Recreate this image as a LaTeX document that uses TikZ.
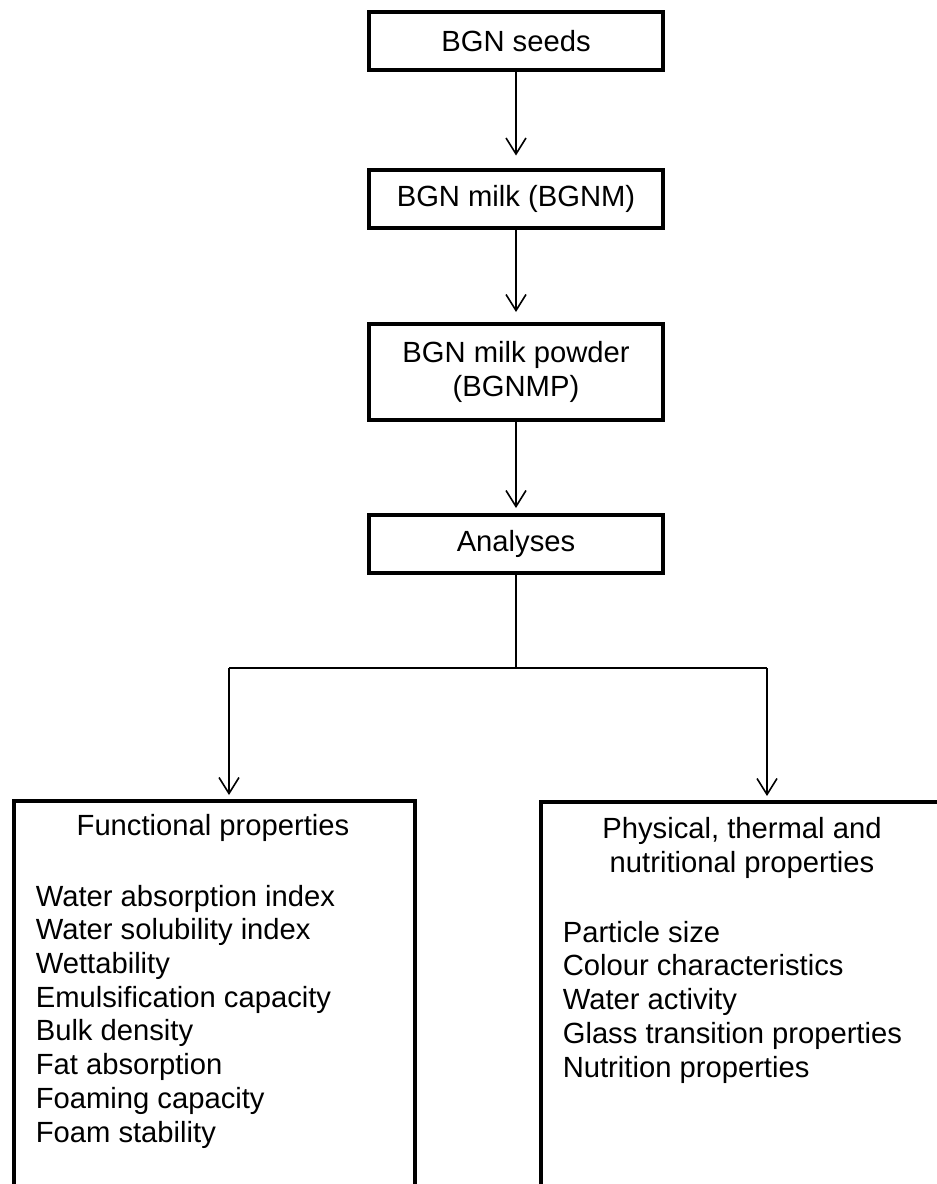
\documentclass[tikz,border=0pt]{standalone}
\usepackage{fontspec}
\setmainfont{Liberation Sans}
\usetikzlibrary{arrows.meta,positioning}
\begin{document}
\begin{tikzpicture}[x=.5pt,y=-.5pt,line width=.8pt,
  >={Straight Barb[length=8pt,width=10pt]},
  font=\fontsize{14.6}{16.85}\selectfont,
  stage/.style={draw,line width=2pt,minimum width=147pt,minimum height=29pt,
    align=center,inner sep=0pt},
  panel/.style={draw,line width=2pt,minimum width=#1,minimum height=250pt,
    anchor=north,inner sep=0pt},
  item/.style={align=left,anchor=base west,inner sep=0pt}]
  \useasboundingbox (0,0) rectangle (937,1184);
  \node[stage] (seeds) at (516,41) {BGN seeds};
  \node[stage] (milk) at (516,198.5) {BGN milk (BGNM)};
  \node[stage,minimum height=48pt] (powder) at (516,372)
    {BGN milk powder\\(BGNMP)};
  \node[stage] (anal) at (516,544) {Analyses};
  \draw[->,shorten >=6pt] (seeds) -- (milk);
  \draw[->,shorten >=5pt] (milk) -- (powder);
  \draw[->,shorten >=2.5pt] (powder) -- (anal);
  \coordinate (split) at (516,668);
  \coordinate (fork l) at (229,668);
  \coordinate (fork r) at (767,668);
  \draw (anal) -- (split);
  \draw (fork l) -- (fork r);
  \node[panel=200.5pt] (func) at (214.5,799) {};
  \node[panel=201pt] (phys) at (742,800) {};
  \draw[->,shorten >=2pt] (fork l) -- (fork l |- func.north);
  \draw[->,shorten >=2pt] (fork r) -- (fork r |- phys.north);
  \node[anchor=base] (functitle) at (213,835) {Functional properties};
  \node[anchor=base,align=center] (phystitle) at (742,872)
    {Physical, thermal and\\nutritional properties};
  \node[item] (funclist) at (35,1142) {Water absorption index\\
    Water solubility index\\Wettability\\Emulsification capacity\\
    Bulk density\\Fat absorption\\Foaming capacity\\Foam stability};
  \node[item] (physlist) at (562,1077) {Particle size\\
    Colour characteristics\\Water activity\\
    Glass transition properties\\Nutrition properties};
\end{tikzpicture}
\end{document}
